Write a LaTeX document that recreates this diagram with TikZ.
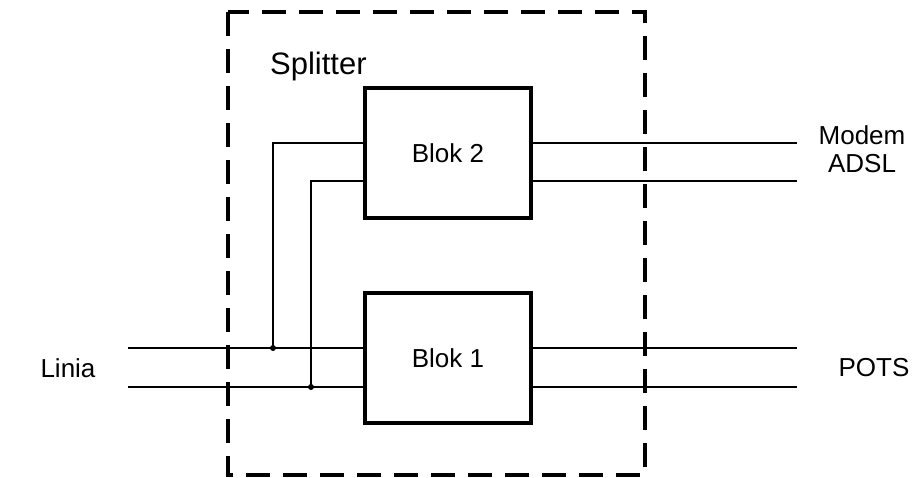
\documentclass[tikz,border=0pt]{standalone}
\usepackage{fontspec}
\setmainfont{Liberation Sans}
\begin{document}
\begin{tikzpicture}[x=1pt,y=-1pt,
  blok/.style={draw,line width=3.2pt,minimum width=166pt,minimum height=130pt,inner sep=0pt,font=\fontsize{26}{31}\selectfont},
  wire/.style={line width=2.6pt},
  lbl/.style={font=\fontsize{26}{31}\selectfont,inner sep=0pt},
  dot/.style={circle,fill,inner sep=0pt,minimum size=6pt}]
\useasboundingbox (0,0) rectangle (916,477);
\draw[line width=3.2pt,dash pattern=on 24pt off 13pt] (228,12) rectangle (645,475);
\node[blok] (b2) at (448,153) {Blok 2};
\node[blok] (b1) at (448,358) {Blok 1};
\node[lbl,anchor=west] (sp) at (270,66) {\fontsize{31}{37}\selectfont Splitter};
\node[lbl] (linia) at (68,368) {Linia};
\node[lbl] (pots) at (874,368) {POTS};
\node[lbl] (modem) at (862,135) {Modem};
\node[lbl] (adsl) at (862,164) {ADSL};
% left lines
\coordinate (l1) at (128,348);
\coordinate (l2) at (128,387);
\coordinate (j1) at (273,348);
\coordinate (j2) at (311,387);
\draw[wire] (l1) -- (b1.west |- l1);
\draw[wire] (l2) -- (b1.west |- l2);
\coordinate (u1) at (273,143);
\coordinate (u2) at (311,181);
\draw[wire] (j1) -- (u1) -- (b2.west |- u1);
\draw[wire] (j2) -- (u2) -- (b2.west |- u2);
\node[dot] at (j1) {};
\node[dot] at (j2) {};
% right lines
\coordinate (r1) at (797,143);
\coordinate (r2) at (797,181);
\coordinate (r3) at (797,348);
\coordinate (r4) at (797,387);
\draw[wire] (b2.east |- r1) -- (r1);
\draw[wire] (b2.east |- r2) -- (r2);
\draw[wire] (b1.east |- r3) -- (r3);
\draw[wire] (b1.east |- r4) -- (r4);
\end{tikzpicture}
\end{document}
